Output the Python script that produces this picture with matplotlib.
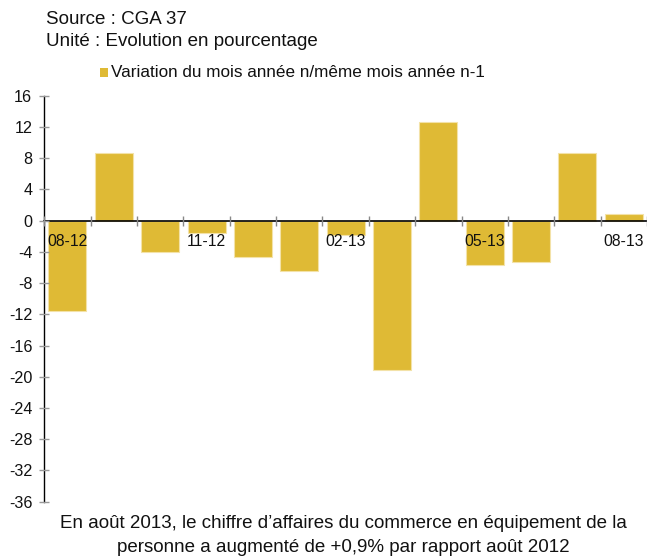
import matplotlib
matplotlib.use("Agg")
import matplotlib.pyplot as plt
from matplotlib.patches import Rectangle
import numpy as np

plt.rcParams['font.family'] = ['Liberation Sans', 'DejaVu Sans']
plt.rcParams['axes.unicode_minus'] = False

months = ["08-12", "09-12", "10-12", "11-12", "12-12", "01-13", "02-13",
          "03-13", "04-13", "05-13", "06-13", "07-13", "08-13"]
values = [-11.6, 8.7, -4.0, -1.55, -4.6, -6.4, -1.85, -19.1, 12.6, -5.7, -5.35, 8.6, 0.9]
shown_labels = ["08-12", "11-12", "02-13", "05-13", "08-13"]
yticks = list(range(16, -37, -4))

bar_color = "#DFBA35"
W, H = 647, 556
fig = plt.figure(figsize=(W / 100, H / 100), dpi=100)

left_px, right_px, top_px, bot_px = 44.3, 647, 95.7, 501.7
ax = fig.add_axes([left_px / W, 1 - bot_px / H, (right_px - left_px) / W, (bot_px - top_px) / H])

x = np.arange(len(months))
ax.bar(x, values, width=0.82, color=bar_color, edgecolor="#F3E2A8", linewidth=0.8, zorder=1)
ax.set_axisbelow(False)

ax.set_xlim(-0.5, len(months) - 0.5)
ax.set_ylim(-36, 16)

for s in ["top", "right"]:
    ax.spines[s].set_visible(False)
ax.spines["bottom"].set_position(("data", 0))
ax.spines["bottom"].set_color("black")
ax.spines["bottom"].set_linewidth(1.2)
ax.spines["left"].set_color("black")
ax.spines["left"].set_linewidth(1.0)

ax.set_yticks(yticks)
ax.set_yticklabels([str(v) for v in yticks])
ax.tick_params(axis="y", direction="inout", length=6.5, width=1.0, color="#999999",
               labelsize=11.6, pad=5.4, labelcolor="#111111")

# category boundary ticks
ax.set_xticks(np.arange(-0.5, len(months), 1.0))
ax.set_xticklabels([])
ax.tick_params(axis="x", which="major", direction="inout", length=6.5, width=1.0, color="#888888")
# labels at selected categories
lab_pos = [months.index(m) for m in shown_labels]
ax.set_xticks(lab_pos, minor=True)
ax.set_xticklabels(shown_labels, minor=True)
ax.tick_params(axis="x", which="minor", length=0, labelsize=11.3, pad=9.5, labelcolor="#111111")

# header texts
fig.text(46 / W, 1 - 19.5 / H, "Source : CGA 37", fontsize=13.5, ha="left", va="center", color="#111111")
fig.text(46 / W, 1 - 41.7 / H, "Unité : Evolution en pourcentage", fontsize=13.5, ha="left", va="center", color="#111111")

# legend
fig.patches.append(Rectangle((100 / W, 1 - 77 / H), 8 / W, 9 / H, transform=fig.transFigure,
                             facecolor=bar_color, edgecolor="none"))
fig.text(111 / W, 1 - 72.5 / H, "Variation du mois année n/même mois année n-1", fontsize=12.3,
         ha="left", va="center", color="#111111")

# footer
fig.text(343 / W, 1 - 524 / H, "En août 2013, le chiffre d’affaires du commerce en équipement de la",
         fontsize=13.5, ha="center", va="center", color="#111111")
fig.text(343 / W, 1 - 547.7 / H, "personne a augmenté de +0,9% par rapport août 2012",
         fontsize=13.5, ha="center", va="center", color="#111111")

fig.savefig("out.png", dpi=100)
